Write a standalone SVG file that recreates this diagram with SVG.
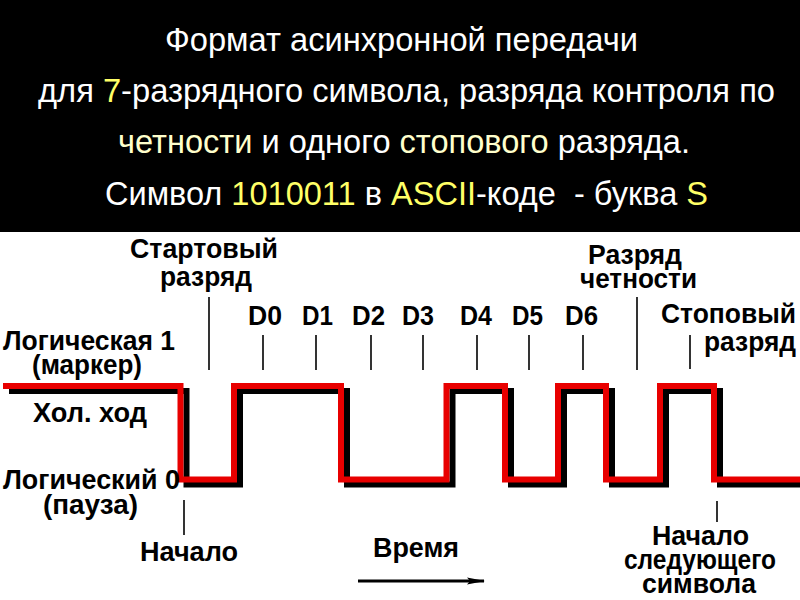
<svg xmlns="http://www.w3.org/2000/svg" width="800" height="600" viewBox="0 0 800 600">
<defs>
<style>
.h{font-family:"Liberation Sans",Arial,sans-serif;font-size:33px;fill:#fff}
.y{fill:#ffff66}
.p{fill:#ffffcc}
.l{font-family:"Liberation Sans",Arial,sans-serif;font-size:27px;font-weight:bold;fill:#000}
.t{stroke:#000;stroke-width:1.6;fill:none}
.sig{fill:none;stroke-width:6;stroke-linejoin:miter;stroke-linecap:butt}
</style>
<marker id="ah" viewBox="0 0 18 8" refX="17" refY="4" markerWidth="18" markerHeight="8" markerUnits="userSpaceOnUse" orient="auto">
<path d="M0,0.5 L18,4 L0,7.5 L3,4 Z" fill="#000"/>
</marker>
</defs>
<rect x="0" y="0" width="800" height="600" fill="#fff"/>
<g id="header">
<rect x="0" y="0" width="800" height="232" fill="#000"/>
<text class="h" x="165" y="51" textLength="473" lengthAdjust="spacingAndGlyphs">Формат асинхронной передачи</text>
<text class="h" x="38" y="102" textLength="737" lengthAdjust="spacingAndGlyphs">для <tspan class="y">7</tspan>-разрядного символа, разряда контроля по</text>
<text class="h" x="118" y="153" textLength="572" lengthAdjust="spacingAndGlyphs"><tspan class="p">четности</tspan> и одного <tspan class="p">стопового</tspan> разряда.</text>
<text class="h" x="105" y="205" textLength="603" lengthAdjust="spacingAndGlyphs">Символ <tspan class="y">1010011</tspan> в <tspan class="y">ASCII</tspan>-коде&#160; - буква <tspan class="y">S</tspan></text>
</g>
<g id="connectors">
<path class="sig" stroke="#000" transform="translate(6,5)" d="M3,386 H180.5 V479.5 H234 V386 H341 V479.5 H446.5 V386 H505 V479.5 H558 V386 H606 V479.5 H660 V386 H714 V479.5 H800"/>
<path class="sig" stroke="#e80000" d="M3,386 H180.5 V479.5 H234 V386 H341 V479.5 H446.5 V386 H505 V479.5 H558 V386 H606 V479.5 H660 V386 H714 V479.5 H800"/>
<line class="t" x1="209" y1="297" x2="209" y2="370"/>
<line class="t" x1="263" y1="335" x2="263" y2="370"/>
<line class="t" x1="316" y1="335" x2="316" y2="370"/>
<line class="t" x1="371" y1="335" x2="371" y2="370"/>
<line class="t" x1="423" y1="335" x2="423" y2="370"/>
<line class="t" x1="477" y1="335" x2="477" y2="370"/>
<line class="t" x1="529" y1="335" x2="529" y2="370"/>
<line class="t" x1="583" y1="335" x2="583" y2="370"/>
<line class="t" x1="637" y1="297" x2="637" y2="370"/>
<line class="t" x1="690" y1="335" x2="690" y2="369"/>
<line class="t" x1="184" y1="500" x2="184" y2="535"/>
<line class="t" x1="717" y1="501" x2="717" y2="522"/>
<line stroke="#000" stroke-width="3" x1="358" y1="581" x2="484" y2="581" marker-end="url(#ah)"/>
</g>
<g id="start-bit"><text class="l" x="130" y="258" textLength="148" lengthAdjust="spacingAndGlyphs">Стартовый</text><text class="l" x="160" y="286" textLength="92" lengthAdjust="spacingAndGlyphs">разряд</text></g>
<g id="d0"><text class="l" x="248" y="325" textLength="34" lengthAdjust="spacingAndGlyphs">D0</text></g>
<g id="d1"><text class="l" x="302" y="325" textLength="31" lengthAdjust="spacingAndGlyphs">D1</text></g>
<g id="d2"><text class="l" x="352" y="325" textLength="33" lengthAdjust="spacingAndGlyphs">D2</text></g>
<g id="d3"><text class="l" x="402" y="325" textLength="32" lengthAdjust="spacingAndGlyphs">D3</text></g>
<g id="d4"><text class="l" x="460" y="325" textLength="32" lengthAdjust="spacingAndGlyphs">D4</text></g>
<g id="d5"><text class="l" x="512" y="325" textLength="31" lengthAdjust="spacingAndGlyphs">D5</text></g>
<g id="d6"><text class="l" x="565" y="325" textLength="33" lengthAdjust="spacingAndGlyphs">D6</text></g>
<g id="parity"><text class="l" x="588" y="264" textLength="94" lengthAdjust="spacingAndGlyphs">Разряд</text><text class="l" x="580" y="288" textLength="117" lengthAdjust="spacingAndGlyphs">четности</text></g>
<g id="stop-bit"><text class="l" x="661" y="323" textLength="135" lengthAdjust="spacingAndGlyphs">Стоповый</text><text class="l" x="704" y="351" textLength="92" lengthAdjust="spacingAndGlyphs">разряд</text></g>
<g id="logic1"><text class="l" x="3" y="350" textLength="172" lengthAdjust="spacingAndGlyphs">Логическая 1</text><text class="l" x="32" y="374" textLength="110" lengthAdjust="spacingAndGlyphs">(маркер)</text></g>
<g id="idle"><text class="l" x="33" y="422" textLength="114" lengthAdjust="spacingAndGlyphs">Хол. ход</text></g>
<g id="logic0"><text class="l" x="3" y="489" textLength="177" lengthAdjust="spacingAndGlyphs">Логический 0</text><text class="l" x="43" y="514" textLength="95" lengthAdjust="spacingAndGlyphs">(пауза)</text></g>
<g id="start"><text class="l" x="140" y="561" textLength="98" lengthAdjust="spacingAndGlyphs">Начало</text></g>
<g id="time"><text class="l" x="373" y="557" textLength="86" lengthAdjust="spacingAndGlyphs">Время</text></g>
<g id="next-start"><text class="l" x="652" y="545" textLength="97" lengthAdjust="spacingAndGlyphs">Начало</text><text class="l" x="624" y="569" textLength="152" lengthAdjust="spacingAndGlyphs">следующего</text><text class="l" x="642" y="593" textLength="114" lengthAdjust="spacingAndGlyphs">символа</text></g>
</svg>
